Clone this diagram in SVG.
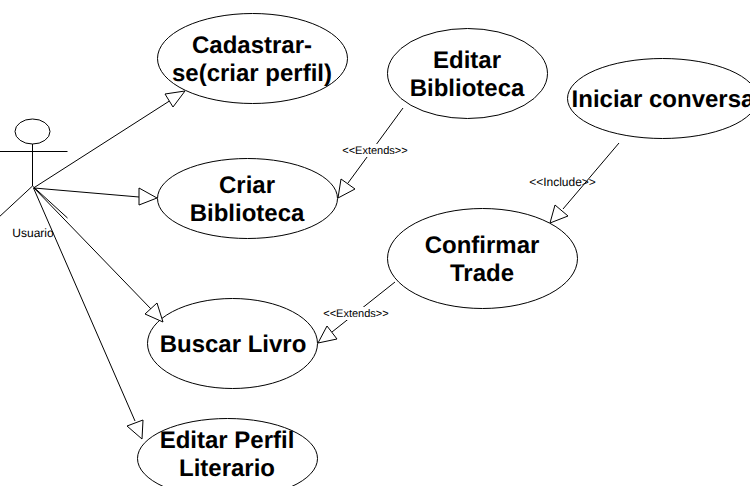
<svg xmlns="http://www.w3.org/2000/svg" width="750" height="486" viewBox="0 0 750 486">
<style>
text{text-rendering:geometricPrecision}
.n{fill:#fff;stroke:#000;stroke-width:1}
.t{font-family:"Liberation Sans",Arial,sans-serif;font-size:24px;font-weight:bold;fill:#000;text-anchor:middle}
.l{font-family:"Liberation Sans",Arial,sans-serif;font-size:11px;fill:#000;text-anchor:middle}
.c{fill:none;stroke:#000;stroke-width:1}
.h{fill:#fff;stroke:#000;stroke-width:1}
.bg{fill:#fff;stroke:none}
</style>
<rect width="750" height="486" fill="#fff"/>
<g id="actor" class="c">
<ellipse cx="32.500" cy="131.500" rx="17.500" ry="12.500" class="n"/>
<path d="M32.500 144V186M-2 151.500H67.500M32.500 186L-2 218M32.500 186L67.500 218"/>
<text x="33" y="237" class="l" style="font-size:12px;stroke:none">Usuario</text>
</g>
<g id="cadastrar"><ellipse class="n" cx="252.500" cy="58.500" rx="95" ry="45"/><text x="252" y="53" class="t">Cadastrar-</text><text x="252" y="81" class="t">se(criar perfil)</text></g>
<g id="editar-biblioteca"><ellipse class="n" cx="467.500" cy="73.500" rx="80" ry="45"/><text x="467" y="68" class="t">Editar</text><text x="467" y="96" class="t">Biblioteca</text></g>
<g id="iniciar"><ellipse class="n" cx="662.500" cy="98.500" rx="95" ry="40"/><text x="663" y="107" class="t">Iniciar conversa</text></g>
<g id="criar"><ellipse class="n" cx="247.500" cy="198.500" rx="90" ry="40"/><text x="247" y="193" class="t">Criar</text><text x="247" y="221" class="t">Biblioteca</text></g>
<g id="confirmar"><ellipse class="n" cx="482.500" cy="258.500" rx="95" ry="50"/><text x="482" y="253" class="t">Confirmar</text><text x="482" y="281" class="t">Trade</text></g>
<g id="buscar"><ellipse class="n" cx="232.500" cy="343.500" rx="85" ry="45"/><text x="233" y="352" class="t">Buscar Livro</text></g>
<g id="editar-perfil"><ellipse class="n" cx="227.500" cy="458.500" rx="90" ry="40"/><text x="227" y="448" class="t">Editar Perfil</text><text x="227" y="476" class="t">Literario</text></g>
<g id="connectors">
<path class="c" d="M33.500 188L171 100"/><polygon class="h" points="185,91 173,107 165,94"/>
<path class="c" d="M34 188L139 197"/><polygon class="h" points="157,198 139,205 139,188"/>
<path class="c" d="M34 188L151 309"/><polygon class="h" points="163,322 145,314 157,303"/>
<path class="c" d="M33.500 188L135 421"/><polygon class="h" points="142,439 127,426 143,420"/>
<path class="c" d="M403 108L348 183"/><polygon class="h" points="338,198 341,179 355,189"/>
<path class="c" d="M619 143L563 209"/><polygon class="h" points="550,223 555,205 568,216"/>
<path class="c" d="M395 282L332 332"/><polygon class="h" points="318,343 327,326 337,339"/>
<rect class="bg" x="342" y="144" width="66" height="13"/>
<text x="375" y="154" class="l">&lt;&lt;Extends&gt;&gt;</text>
<text x="562.500" y="186" class="l" style="font-size:12px">&lt;&lt;Include&gt;&gt;</text>
<rect class="bg" x="323" y="307" width="66" height="13"/>
<text x="356" y="317" class="l">&lt;&lt;Extends&gt;&gt;</text>
</g>
</svg>
